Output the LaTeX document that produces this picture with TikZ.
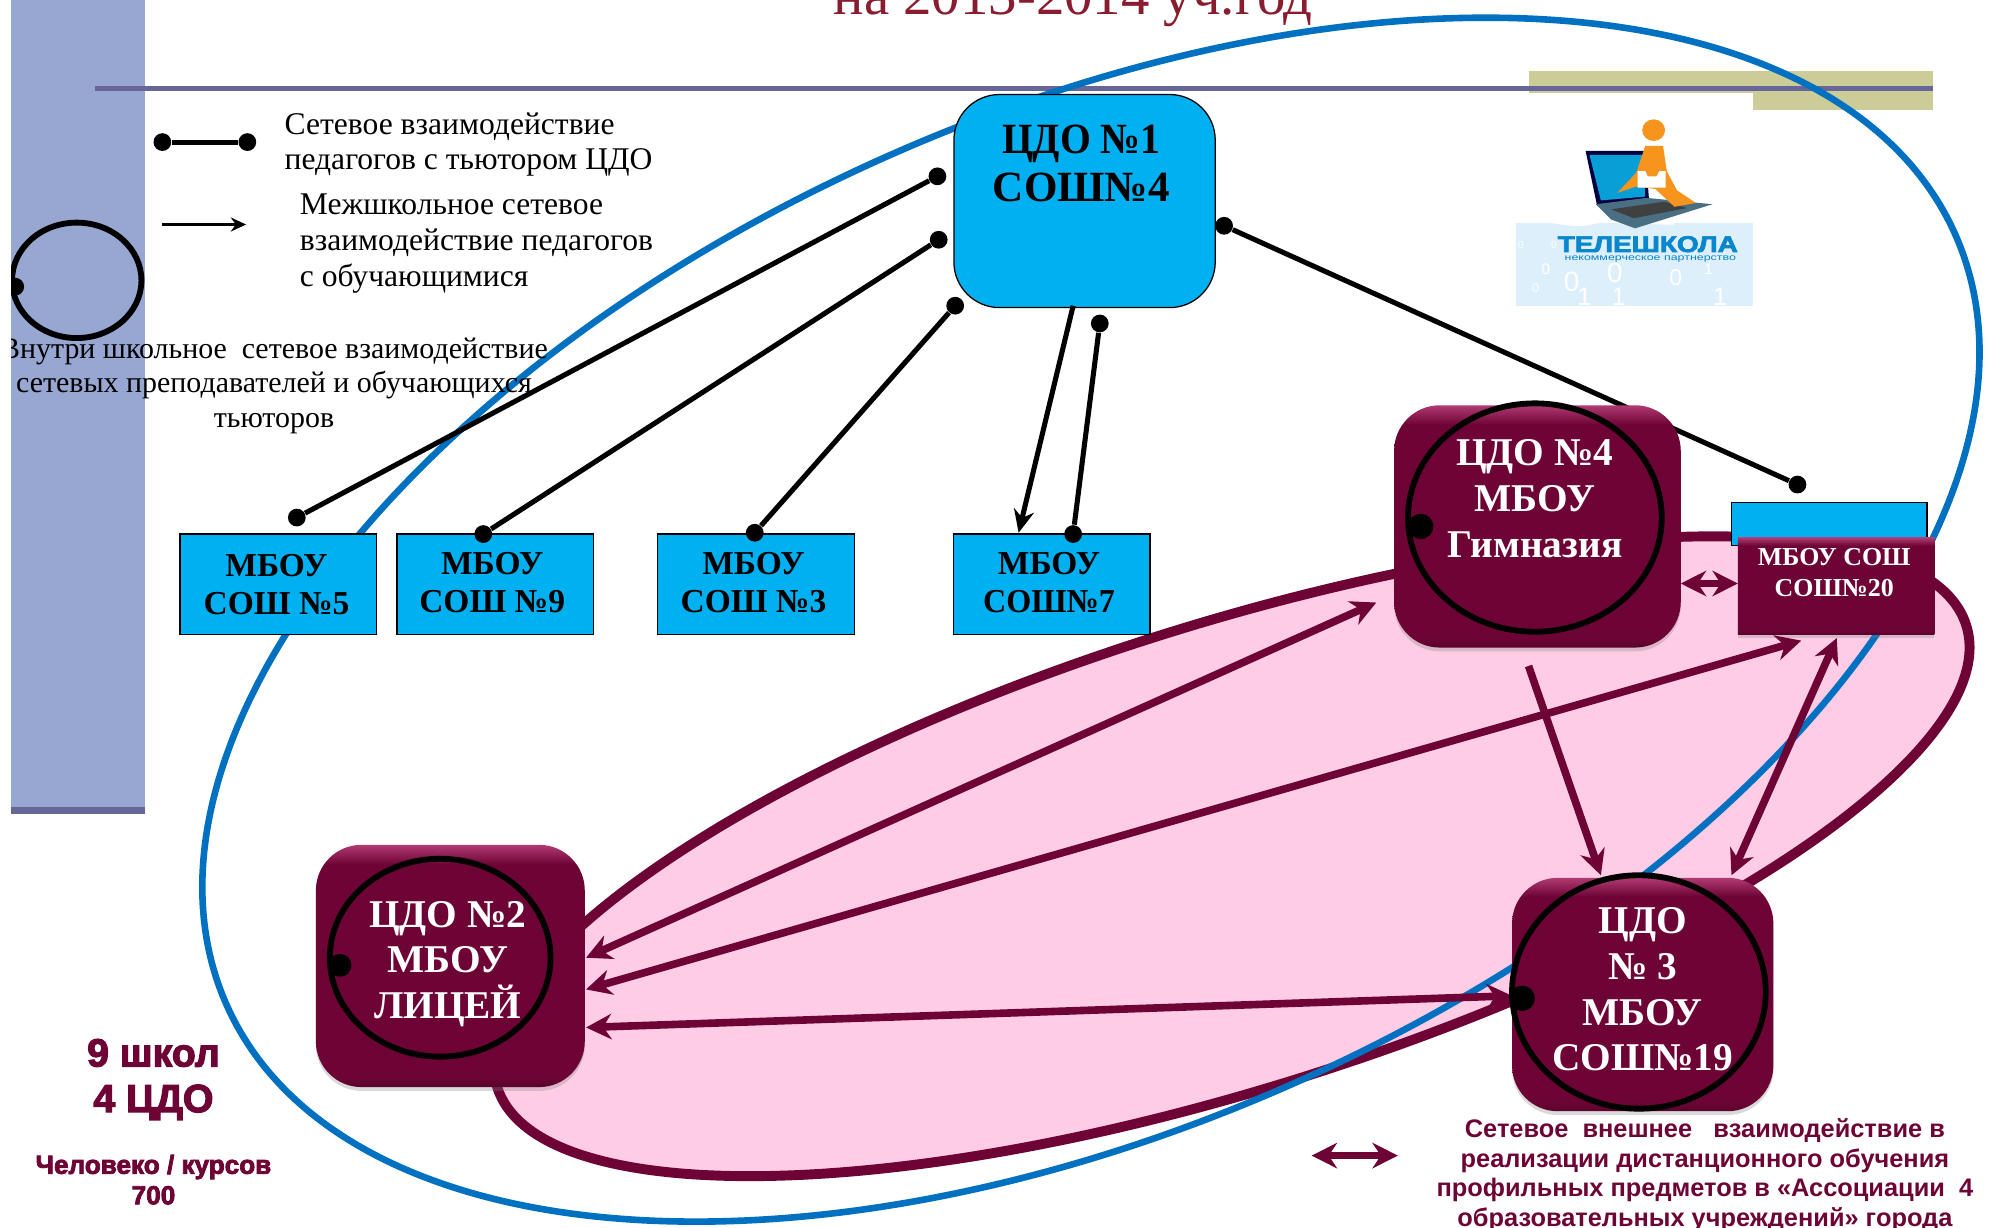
\documentclass[tikz,border=0pt]{standalone}
\usepackage{fontspec}
\setmainfont{Liberation Serif}
\newfontfamily\sansf{Liberation Sans}
\newfontfamily\heavy[BoldFeatures={FakeBold=3}]{Liberation Sans}
\usetikzlibrary{arrows.meta,shadows,calc,shapes.geometric}
\definecolor{maroon}{HTML}{6E0435}
\definecolor{maroontop}{HTML}{B03A72}
\definecolor{skyb}{HTML}{00B0F0}
\definecolor{blueline}{HTML}{0070C0}
\definecolor{pinkfill}{HTML}{FFCCE6}
\definecolor{barblue}{HTML}{98A6D2}
\definecolor{barline}{HTML}{666699}
\definecolor{olive}{HTML}{CCCC99}
\definecolor{titlered}{HTML}{8A1C30}
\definecolor{logosky}{HTML}{DCEFFB}
\definecolor{logoblue}{HTML}{0A86CC}
\definecolor{logoorange}{HTML}{F7941D}
\pgfdeclareverticalshading{bevel}{100bp}{color(0bp)=(maroon!80!black); color(25bp)=(maroon!80!black); color(27bp)=(maroon); color(71bp)=(maroon); color(75bp)=(maroontop); color(100bp)=(maroontop)}
\newcommand{\fs}[2]{\fontsize{#1}{#2}\selectfont}
\tikzset{
  x=0.5pt,y=-0.5pt,
  school/.style={draw=black,line width=.5pt,fill=skyb,inner sep=0pt},
  cdo/.style={rounded corners=18pt,shading=bevel,inner sep=0pt,drop shadow={shadow xshift=0pt,shadow yshift=-1.5pt,opacity=.3}},
  ring/.style={draw=black,line width=2.3pt,inner sep=0pt,ellipse},
  dotn/.style={circle,fill=black,inner sep=0pt,minimum size=7pt},
  blk/.style={draw=black,line width=2pt},
  mar/.style={draw=maroon,line width=3pt,-{Stealth[length=10pt,width=10pt]}},
  marb/.style={draw=maroon,line width=3pt,{Stealth[length=10pt,width=10pt]}-{Stealth[length=10pt,width=10pt]}},
  wtxt/.style={text=white,font=\bfseries\fs{15.5}{18},align=center,inner sep=0pt},
  btxt/.style={text=black,font=\bfseries\fs{13.2}{15},align=center,inner sep=0pt},
  legend/.style={text=black,font=\fs{12.45}{14},align=left,inner sep=0pt},
  digit/.style={text=white,font=\sansf,inner sep=0pt},
}
\begin{document}
\begin{tikzpicture}
\useasboundingbox (0,0) rectangle (1568,968);
% background furniture
\fill[barblue] (9,0) rectangle (114,642);
\fill[barline] (9,636) rectangle (114,642);
\fill[olive] (1205,56) rectangle (1524,73.5);
\fill[olive] (1382,73.5) rectangle (1524,87);
\fill[barline] (75,68) rectangle (1524,71.5);
\node[text=titlered,font=\fs{22.4}{24},inner sep=0pt] (title) at (846,1) {на 2013-2014 уч.год};
% ellipses
\draw[draw=maroon,fill=pinkfill,line width=3.9pt,rotate around={17.45:(971,675)}] (971,675) ellipse [x radius=303.5pt,y radius=91.5pt];
\draw[draw=blueline,line width=2.6pt,rotate around={24.05:(860,488.5)}] (860,488.5) ellipse [x radius=373pt,y radius=199.5pt];
% logo
\fill[logosky] (1195,176) rectangle (1382,241);
\fill[white] (1195,176) .. controls (1215,170) and (1235,182) .. (1255,177) .. controls (1275,172) and (1300,178) .. (1320,177) -- (1320,170) -- (1195,170) -- cycle;
\node[digit,font=\sansf\fs{4}{4}] at (1199,193) {0};
\node[digit,font=\sansf\fs{4}{4}] at (1225,193) {0};
\node[digit,font=\sansf\fs{6}{6}] at (1218.7,212) {0};
\node[digit,font=\sansf\fs{5}{5}] at (1210.5,227) {0};
\node[digit,font=\sansf\fs{11}{11}] at (1239,222) {0};
\node[digit,font=\sansf\fs{11}{11}] at (1273,215) {0};
\node[digit,font=\sansf\fs{9}{9}] at (1321,219) {0};
\node[digit,font=\sansf\fs{6}{6}] at (1347,212) {1};
\node[digit,font=\sansf\fs{10}{10}] at (1276,234) {1};
\node[digit,font=\sansf\fs{10}{10}] at (1356,234) {1};
\node[digit,font=\sansf\fs{10}{10}] at (1249,234) {1};
\fill[black!75!blue] (1250,119) -- (1297,119) -- (1300,158) -- (1259,162) -- cycle;
\fill[logoblue!80!cyan] (1253,122) -- (1295,122) -- (1297,155) -- (1262,158) -- cycle;
\fill[black!55!cyan] (1258,161) -- (1298,156) -- (1350,161) -- (1289,180) -- (1270,173) -- cycle;
\fill[black!75] (1270,165) -- (1312,159) -- (1330,164) -- (1288,172) -- cycle;
\fill[logoorange] (1297,115) -- (1311,115) -- (1314,135) -- (1322,150) -- (1337,160) -- (1320,163) -- (1305,149) -- (1290,147) -- (1275,152) -- (1290,136) -- cycle;
\fill[white] (1291,135) -- (1297,135) -- (1299,139) -- (1306,139) -- (1308,135) -- (1313,135) -- (1313,148) -- (1291,148) -- cycle;
\fill[logoorange] (1303.6,102.6) circle [x radius=9,y radius=8.5];
\node[text=logoblue,font=\heavy\bfseries\fs{10.5}{11},inner sep=0pt] (logot) at (1299,192.5) {\scalebox{1.05}[.85]{ТЕЛЕШКОЛА}};
\node[text=logoblue,font=\sansf\fs{4.9}{5},inner sep=0pt] (logos) at (1301,204) {\scalebox{1}[.7]{некоммерческое партнерство}};
% schools
\node[school,minimum width=77.5pt,minimum height=39.5pt] (s5) at (219.5,460.5) {};
\node[school,minimum width=77.5pt,minimum height=39.5pt] (s9) at (390.5,460.5) {};
\node[school,minimum width=77.5pt,minimum height=39.5pt] (s3) at (596,460.5) {};
\node[school,minimum width=77.5pt,minimum height=39.5pt] (s7) at (829,460.5) {};
\node[btxt] (s5t) at (218,461) {МБОУ\\СОШ №5};
\node[btxt] (s9t) at (388,459) {МБОУ\\СОШ №9};
\node[btxt] (s3t) at (594,459) {МБОУ\\СОШ №3};
\node[btxt] (s7t) at (827,459) {МБОУ\\\scalebox{.96}[1]{СОШ№7}};
\node[draw=black,line width=.5pt,fill=skyb,rounded corners=18pt,minimum width=103pt,minimum height=84pt,inner sep=0pt] (c1) at (855,158.5) {};
\node[text=black,font=\bfseries\fs{17}{19},align=center,inner sep=0pt] (c1t) at (852.5,129) {\scalebox{.92}[1]{ЦДО №1}\\СОШ№4};
% dots and black connectors
\node[dotn] (d1a) at (739,139) {};
\node[dotn] (d1b) at (234,408) {};
\node[dotn] (d2a) at (740,189) {};
\node[dotn] (d2b) at (381,421) {};
\node[dotn] (d3a) at (753,241) {};
\node[dotn] (d3b) at (595,420) {};
\node[dotn] (d4a) at (867,255) {};
\node[dotn] (d4b) at (846,421) {};
\node[dotn] (d5a) at (965,178) {};
\node[dotn] (d5b) at (1417,382) {};
\coordinate (a7a) at (846,241);
\coordinate (a7b) at (803,420);
\draw[blk] (d5a) -- (d5b);
\draw[blk] (d1a) -- (d1b);
\draw[blk] (d2a) -- (d2b);
\draw[blk] (d3a) -- (d3b);
\draw[blk] (d4a) -- (d4b);
\draw[blk,-{Stealth[length=9pt,width=8pt]}] (a7a) -- (a7b);
% maroon boxes
\node[draw=black,line width=.5pt,fill=skyb,minimum width=77pt,minimum height=17pt,inner sep=0pt] (s20b) at (1442,413) {};
\node[cdo,minimum width=113pt,minimum height=95.5pt] (c4) at (1212,415) {};
\node[cdo,rounded corners=0pt,minimum width=77.5pt,minimum height=38pt] (c20) at (1447.5,462) {};
\node[cdo,minimum width=106pt,minimum height=95.5pt] (c2) at (355,761.5) {};
\node[cdo,minimum width=103pt,minimum height=92pt] (c3) at (1295,784) {};
% maroon arrows
\coordinate (m1a) at (1085,475); \coordinate (m1b) at (462,755);
\coordinate (m2a) at (1420,505); \coordinate (m2b) at (462,780);
\coordinate (m3a) at (1192,785); \coordinate (m3b) at (462,810);
\coordinate (m4a) at (1205,525); \coordinate (m4b) at (1262,690);
\coordinate (m5a) at (1448,503); \coordinate (m5b) at (1365,690);
\coordinate (m6a) at (1325,460); \coordinate (m6b) at (1370,460);
\coordinate (m7a) at (1034,911); \coordinate (m7b) at (1102,911);
\draw[marb] (m1a) -- (m1b);
\draw[marb] (m2a) -- (m2b);
\draw[marb] (m3a) -- (m3b);
\draw[mar] (m4a) -- (m4b);
\draw[marb] (m5a) -- (m5b);
\draw[marb] (m6a) -- (m6b);
\draw[marb] (m7a) -- (m7b);
% rings
\node[ring,minimum width=100pt,minimum height=90pt] (r4) at (1210,408) {};
\node[ring,minimum width=87pt,minimum height=78pt] (r2) at (347,755) {};
\node[ring,minimum width=100pt,minimum height=92pt] (r3) at (1292,782) {};
\node[dotn,minimum size=10pt] (rd4) at (1120,415) {};
\node[dotn,minimum size=9pt] (rd2) at (268,761) {};
\node[dotn,minimum size=10pt] (rd3) at (1200,787) {};
\node[wtxt] (c4t) at (1210,393) {ЦДО №4\\МБОУ\\Гимназия};
\node[wtxt] (c2t) at (353,760) {ЦДО №2\\МБОУ\\ЛИЦЕЙ};
\node[wtxt] (c3t) at (1295,780) {ЦДО\\№ 3\\МБОУ\\СОШ№19};
\node[text=white,font=\bfseries\fs{10.2}{12},align=center,inner sep=0pt] (c20t) at (1446,451.5) {МБОУ СОШ\\СОШ№20};
% legend
\node[dotn] (l1a) at (128,112) {};
\node[dotn] (l1b) at (195,112) {};
\draw[blk] (l1a) -- (l1b);
\coordinate (l2a) at (128,177); \coordinate (l2b) at (194,177);
\draw[draw=black,line width=1pt,-{Stealth[length=6pt,width=5.5pt]}] (l2a) -- (l2b);
\node[legend,anchor=west] (lt1) at (224,114) {Сетевое взаимодействие\\педагогов с тьютором ЦДО};
\node[legend,anchor=west] (lt2) at (236,192) {Межшкольное сетевое\\взаимодействие педагогов\\с обучающимися};
\node[ring,minimum width=51pt,minimum height=45.5pt] (lc) at (60.5,221) {};
\node[dotn] (lcd) at (12,226) {};
\node[legend,align=center,font=\fs{11.8}{13.6}] (lt3) at (216,304) {Внутри школьное\ \ сетевое взаимодействие\\сетевых преподавателей и обучающихся\\тьюторов};
% figures and note
\node[text=maroon,font=\heavy\bfseries\fs{15.5}{18},align=center,inner sep=0pt] (n1) at (121,851) {9 школ\\4 ЦДО};
\node[text=maroon,font=\heavy\bfseries\fs{10.3}{12},align=center,inner sep=0pt] (n2) at (121,930) {Человеко / курсов\\700};
\node[text=maroon,font=\sansf\bfseries\fs{10}{11.7},align=center,inner sep=0pt] (n3) at (1344,926.5) {Сетевое\ \ внешнее\ \ \ взаимодействие в\\реализации дистанционного обучения\\профильных предметов в «Ассоциации\ \ 4\\образовательных учреждений» города};
% outer white edge
\fill[white] (0,0) rectangle (9,968);
\end{tikzpicture}
\end{document}
